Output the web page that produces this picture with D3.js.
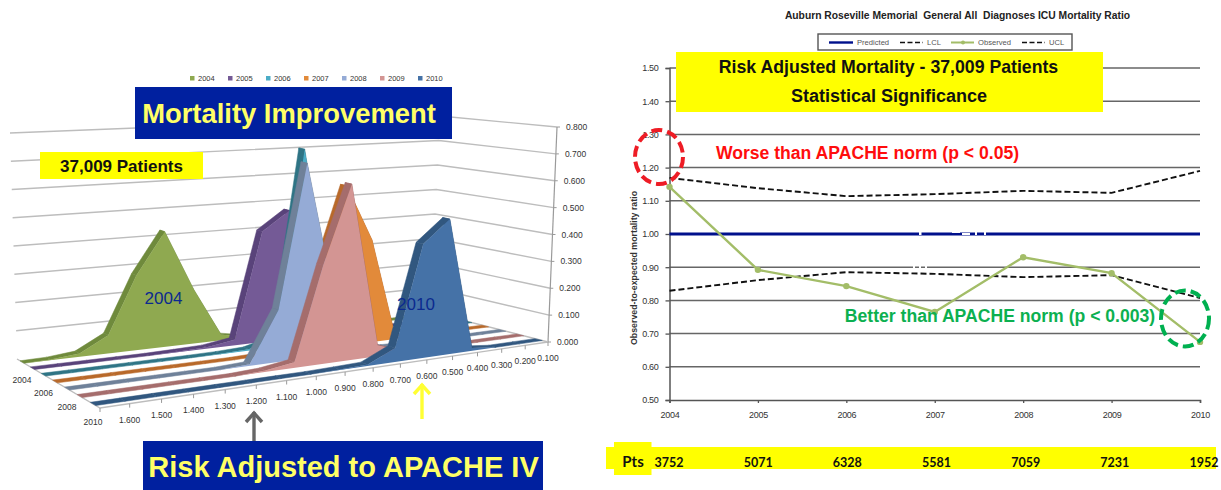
<!DOCTYPE html>
<html>
<head>
<meta charset="utf-8">
<script src="https://cdn.jsdelivr.net/npm/d3@7"></script>
<style>
  html, body { margin: 0; padding: 0; background: #fff; }
  svg { display: block; font-family: 'Liberation Sans', Arial, sans-serif; }
  .domain { stroke: #555; stroke-width: 1.5; }
</style>
</head>
<body>
<svg width="1221" height="490"></svg>
<script>
'use strict';
// left chart data, rows are the years, columns the risk adjusted ratio
const ratio_labels = ['1.700','1.600','1.500','1.400','1.300','1.200','1.100','1.000','0.900','0.800','0.700','0.600','0.500','0.400','0.300','0.200','0.100'];
const height_ticks = [0, 0.1, 0.2, 0.3, 0.4, 0.5, 0.6, 0.7, 0.8];
const years = ['2004','2005','2006','2007','2008','2009','2010'];
const dist_2004 = [0, 0.002, 0.012, 0.065, 0.27, 0.42, 0.2, 0.02, 0.002, 0, 0, 0, 0, 0, 0, 0, 0];
const dist_2005 = [0, 0, 0, 0, 0, 0.002, 0.005, 0.02, 0.41, 0.48, 0.15, 0.01, 0, 0, 0, 0, 0];
const dist_2006 = [0, 0, 0, 0, 0, 0, 0.001, 0.005, 0.03, 0.72, 0.15, 0.01, 0, 0, 0, 0, 0];
const dist_2007 = [0, 0, 0, 0, 0, 0, 0, 0.003, 0.03, 0.28, 0.59, 0.38, 0.01, 0, 0, 0, 0];
const dist_2008 = [0, 0, 0, 0, 0, 0, 0.005, 0.185, 0.7, 0.2, 0.02, 0.002, 0, 0, 0, 0, 0];
const dist_2009 = [0, 0, 0, 0, 0, 0, 0.005, 0.02, 0.35, 0.63, 0.04, 0.005, 0, 0, 0, 0, 0];
const dist_2010 = [0, 0, 0, 0, 0, 0, 0, 0, 0.002, 0.005, 0.05, 0.41, 0.49, 0.01, 0, 0, 0];
const face_colors = ['#8FA950','#745A96','#4BACC6','#E28A3A','#95ABD6','#D39593','#4572A7'];
const side_colors = ['#6F8A3C','#59437A','#2F7485','#B8692A','#6F8199','#A56D6C','#31577F'];

// right chart data
const chart_years = ['2004','2005','2006','2007','2008','2009','2010'];
const predicted = [1, 1, 1, 1, 1, 1, 1];
const lcl = [0.829, 0.861, 0.885, 0.88, 0.87, 0.876, 0.807];
const observed = [1.142, 0.892, 0.843, 0.765, 0.93, 0.882, 0.675];
const ucl = [1.169, 1.138, 1.114, 1.12, 1.13, 1.124, 1.19];
const patients = ['3752','5071','6328','5581','7059','7231','1952'];

const svg = d3.select('svg');

// maps the unit square on a four sided shape (perspective)
const quad_map = (p) => {
  const [x0,y0] = p[0], [x1,y1] = p[1], [x2,y2] = p[2], [x3,y3] = p[3];
  const dx1 = x1-x2, dx2 = x3-x2, sx = x0-x1+x2-x3;
  const dy1 = y1-y2, dy2 = y3-y2, sy = y0-y1+y2-y3;
  const den = dx1*dy2-dx2*dy1;
  const g = (sx*dy2-dx2*sy)/den, h = (dx1*sy-sx*dy1)/den;
  const a = x1-x0+g*x1, b = x3-x0+h*x3, d = y1-y0+g*y1, e = y3-y0+h*y3;
  return (u,v) => {
    const w = g*u+h*v+1;
    return [(a*u+b*v+x0)/w, (d*u+e*v+y0)/w];
  };
};

//floor of the 3d box: back left, back right, front right, front left
const floor_map = quad_map([[17,359],[430,312],[548,342],[100,408]]);
//full height of the box at these corners, as x and y offsets
const rise_back = d3.scaleLinear().domain([0,1]).range([[-7,-226],[10,-196]]);
const rise_front = d3.scaleLinear().domain([0,1]).range([[-7,-240],[9,-215]]);

//the pow takes out a bit of the perspective along the ratio axis
const u_point = d3.scalePoint().domain(ratio_labels).range([0,1]);
const u_pow = d3.scalePow().exponent(1.08).domain([0,1]).range([0,1]);
const u_scale = d => u_pow(u_point(d));
const v_scale = d3.scaleBand().domain(years).range([0,1]).paddingInner(0.6).paddingOuter(0.3);
const z_scale = d3.scaleLinear().domain([0,0.8]).range([0,1]);

const project = (u,v,z) => {
  const f = floor_map(u,v), k = z_scale(z);
  const rb = rise_back(u), rf = rise_front(u);
  return [f[0]+(rb[0]+(rf[0]-rb[0])*v)*k, f[1]+(rb[1]+(rf[1]-rb[1])*v)*k];
};
const poly = d3.line();

const left_g = svg.append('g');

//walls
left_g.append('g').selectAll('path').data(height_ticks.slice(1)).enter().append('path')
  .attr('d', z => poly([project(0,0,z),project(1,0,z),project(1,1,z)]))
  .attr('fill','none').attr('stroke','#BDBDBD').attr('stroke-width',1.4);
left_g.append('path')
  .attr('d', poly([project(1,1,0),project(1,1,0.8)]))
  .attr('fill','none').attr('stroke','#9A9A9A').attr('stroke-width',1.2);
left_g.append('path')
  .attr('d', poly([project(0,0,0),project(0,1,0),project(1,1,0),project(1,0,0)]))
  .attr('fill','none').attr('stroke','#BDBDBD').attr('stroke-width',1.4);

//height labels on the right wall
const height_g = left_g.append('g').selectAll('g').data(height_ticks).enter().append('g');
height_g.append('path')
  .attr('d', z => { const p = project(1,1,z); return poly([p,[p[0]+3,p[1]]]); })
  .attr('stroke','#9A9A9A').attr('stroke-width',1);
height_g.append('text')
  .attr('x', z => project(1,1,z)[0]+9).attr('y', z => project(1,1,z)[1]+3)
  .attr('font-size',8.5).attr('fill','#333')
  .text(z => z.toFixed(3));

//ratio axis
const ratio_g = left_g.append('g').selectAll('g').data(ratio_labels).enter().append('g');
ratio_g.append('path')
  .attr('d', d => { const p = project(u_scale(d),1,0); return poly([p,[p[0],p[1]+4]]); })
  .attr('stroke','#9A9A9A').attr('stroke-width',1);
ratio_g.filter(d => d !== '1.700').append('text')
  .attr('x', d => project(u_scale(d),1,0)[0]).attr('y', d => project(u_scale(d),1,0)[1]+19)
  .attr('text-anchor','middle').attr('font-size',8.5).attr('fill','#333')
  .text(d => d);

//year axis, every second year
left_g.append('g').selectAll('text').data(years.filter((d,i) => i%2===0)).enter().append('text')
  .attr('x', d => project(0,v_scale(d)+v_scale.bandwidth()/2,0)[0])
  .attr('y', d => project(0,v_scale(d)+v_scale.bandwidth()/2,0)[1]+21)
  .attr('text-anchor','middle').attr('font-size',8.5).attr('fill','#333')
  .text(d => d);

//slabs from back to front
const dists = [dist_2004,dist_2005,dist_2006,dist_2007,dist_2008,dist_2009,dist_2010];
dists.forEach((dist,i) => {
  const back = v_scale(years[i]);
  const front = back + v_scale.bandwidth();
  const slab = left_g.append('g');
  slab.selectAll('path.side').data(d3.pairs(ratio_labels.map((d,j) => [u_scale(d),dist[j]]))).enter().append('path')
    .attr('class','side')
    .attr('d', s => poly([project(s[0][0],back,s[0][1]),project(s[1][0],back,s[1][1]),project(s[1][0],front,s[1][1]),project(s[0][0],front,s[0][1])])+'Z')
    .attr('fill',side_colors[i]).attr('stroke',side_colors[i]).attr('stroke-width',0.5);
  const outline = ratio_labels.map((d,j) => project(u_scale(d),front,dist[j]));
  outline.push(project(1,front,0),project(0,front,0));
  slab.append('path').attr('d',poly(outline)+'Z').attr('fill',face_colors[i]);
});

//legend of the left chart
const leg_x = d3.scalePoint().domain(years).range([190,418]);
const leg_g = left_g.append('g').selectAll('g').data(years).enter().append('g')
  .attr('transform', d => `translate(${leg_x(d)},76)`);
leg_g.append('rect').attr('width',4.5).attr('height',4.5).attr('fill',(d,i) => face_colors[i]);
leg_g.append('text').attr('x',8).attr('y',5).attr('font-size',7.5).attr('fill','#333').text(d => d);

//right chart
const x_scale = d3.scalePoint().domain(chart_years).range([669.5,1200]);
const y_scale = d3.scaleLinear().domain([0.5,1.5]).range([400,68]);
const right_g = svg.append('g');

right_g.append('g').selectAll('line').data(y_scale.ticks(10).slice(1)).enter().append('line')
  .attr('x1',669.5).attr('x2',1200).attr('y1',d => y_scale(d)).attr('y2',d => y_scale(d))
  .attr('stroke','#666').attr('stroke-width',1.5);

const y_axis = right_g.append('g').attr('transform','translate(669.5,0)')
  .call(d3.axisLeft(y_scale).ticks(10).tickFormat(d3.format('.2f')).tickSize(4).tickPadding(7));
const x_axis = right_g.append('g').attr('transform','translate(0,400)')
  .call(d3.axisBottom(x_scale).tickSize(3).tickPadding(9));
[y_axis,x_axis].forEach(a => {
  a.attr('font-family',null).attr('font-size',null);
  a.selectAll('text').attr('font-size',9).attr('fill','#333').style('letter-spacing','-0.3px');
  a.selectAll('line').attr('stroke','#555').attr('stroke-width',1.3);
});

const value_line = d3.line().x((d,i) => x_scale(chart_years[i])).y(d => y_scale(d));
right_g.append('path').attr('d',value_line(predicted)).attr('fill','none').attr('stroke','#00108C').attr('stroke-width',3);
[lcl,ucl].forEach(s => {
  right_g.append('path').attr('d',value_line(s)).attr('fill','none').attr('stroke','#111')
    .attr('stroke-width',1.9).attr('stroke-dasharray','6,3');
});

//small white leftovers on the lines around 2007
const nicks = [[919,231,2.5,4],[952,231,8,2],[962,233,8,2],[975,231,2,4],[984,231,2,4],[913,265,2,3],[919,265,2,3],[925,265,2,3]];
right_g.append('g').selectAll('rect').data(nicks).enter().append('rect')
  .attr('x',d => d[0]).attr('y',d => d[1]).attr('width',d => d[2]).attr('height',d => d[3]).attr('fill','#fff');

right_g.append('path').attr('d',value_line(observed)).attr('fill','none').attr('stroke','#A3BD68').attr('stroke-width',2.4);
right_g.append('g').selectAll('circle').data(observed).enter().append('circle')
  .attr('cx',(d,i) => x_scale(chart_years[i])).attr('cy',d => y_scale(d)).attr('r',3.2).attr('fill','#A3BD68');

right_g.append('text').attr('x',957.5).attr('y',19).attr('text-anchor','middle')
  .attr('font-size',10.3).attr('font-weight','bold').attr('fill','#222')
  .text('Auburn Roseville Memorial  General All  Diagnoses ICU Mortality Ratio')
  .style('white-space','pre');

right_g.append('text').attr('transform','translate(637,268) rotate(-90)').attr('text-anchor','middle')
  .attr('font-size',8.8).attr('font-weight','bold').attr('fill','#333')
  .text('Observed-to-expected mortality ratio');

//right legend
right_g.append('rect').attr('x',818).attr('y',34).attr('width',254).attr('height',16)
  .attr('fill','#fff').attr('stroke','#555').attr('stroke-width',1.4);
const legend_items = [
  {name:'Predicted',x:829,w:24,color:'#00108C',dash:null,sw:2.4},
  {name:'LCL',x:900,w:23,color:'#111',dash:'5,2.5',sw:1.6},
  {name:'Observed',x:951,w:23,color:'#A3BD68',dash:null,sw:2},
  {name:'UCL',x:1022,w:23,color:'#111',dash:'5,2.5',sw:1.6}
];
const item_g = right_g.append('g').selectAll('g').data(legend_items).enter().append('g');
item_g.append('line').attr('x1',d => d.x).attr('x2',d => d.x+d.w).attr('y1',42.5).attr('y2',42.5)
  .attr('stroke',d => d.color).attr('stroke-width',d => d.sw).attr('stroke-dasharray',d => d.dash);
item_g.filter(d => d.name==='Observed').append('circle').attr('cx',d => d.x+12).attr('cy',42.5).attr('r',2).attr('fill','#A3BD68');
item_g.append('text').attr('x',d => d.x+d.w+4).attr('y',45.2).attr('font-size',7.6).attr('fill','#555').text(d => d.name);

//annotation boxes and texts on top of both charts
const boxes = [
  {x:135,y:87,w:317,h:52,c:'#00209F'},
  {x:143,y:441,w:400,h:49,c:'#00209F'},
  {x:40,y:152,w:163,h:27,c:'#FFFF00'},
  {x:676,y:52,w:427,h:60,c:'#FFFF00'},
  {x:606,y:447,w:610,h:22,c:'#FFFF00'},
  {x:614,y:442,w:37.5,h:33,c:'#FFFF00'}
];
svg.append('g').selectAll('rect').data(boxes).enter().append('rect')
  .attr('x',d => d.x).attr('y',d => d.y).attr('width',d => d.w).attr('height',d => d.h).attr('fill',d => d.c);

const notes = [
  {t:'Mortality Improvement',x:289,y:123,s:27.4,c:'#FFFF66',w:'bold'},
  {t:'Risk Adjusted to APACHE IV',x:343.5,y:477,s:29,c:'#FFFF66',w:'bold'},
  {t:'37,009 Patients',x:121.5,y:172,s:17,c:'#111',w:'bold'},
  {t:'2004',x:163.5,y:304,s:17,c:'#0B2A8F',w:'normal'},
  {t:'2010',x:416,y:310,s:17,c:'#0B2A8F',w:'normal'},
  {t:'Risk Adjusted Mortality - 37,009 Patients',x:888.5,y:73,s:17.7,c:'#111',w:'bold'},
  {t:'Statistical Significance',x:889,y:102,s:18,c:'#111',w:'bold'},
  {t:'Worse than APACHE norm (p < 0.05)',x:867.5,y:159,s:17.6,c:'#FF0D0D',w:'bold'},
  {t:'Better than APACHE norm (p < 0.003)',x:1000,y:322,s:17.6,c:'#0CB050',w:'bold'}
];
svg.append('g').selectAll('text').data(notes).enter().append('text')
  .attr('x',d => d.x).attr('y',d => d.y).attr('text-anchor','middle')
  .attr('font-size',d => d.s).attr('font-weight',d => d.w).attr('fill',d => d.c)
  .text(d => d.t);

//patient counts under the years
const pts_x = d3.scalePoint().domain(chart_years).range([669,1204]);
const pts_g = svg.append('g').attr('font-family','Lato').attr('font-weight','bold').attr('fill','#111').attr('text-anchor','middle');
pts_g.selectAll('text').data(patients).enter().append('text')
  .attr('x',(d,i) => pts_x(chart_years[i])).attr('y',467).attr('font-size',12.5).text(d => d);
pts_g.append('text').attr('x',633).attr('y',467).attr('font-size',15).text('Pts');

//dashed circles
const rings = [
  {cx:659,cy:157,rx:24,ry:27,c:'#EE1C25',dash:'11,5'},
  {cx:1185,cy:318.5,rx:24,ry:28,c:'#00B050',dash:'11,5'}
];
svg.append('g').selectAll('ellipse').data(rings).enter().append('ellipse')
  .attr('cx',d => d.cx).attr('cy',d => d.cy).attr('rx',d => d.rx).attr('ry',d => d.ry)
  .attr('fill','none').attr('stroke',d => d.c).attr('stroke-width',4).attr('stroke-dasharray',d => d.dash);

//arrows
const arrows = [
  {x:254,y0:441,y1:412,c:'#666'},
  {x:422,y0:419,y1:384,c:'#FFFF33'}
];
const arrow_g = svg.append('g').selectAll('g').data(arrows).enter().append('g')
  .attr('fill','none').attr('stroke',d => d.c).attr('stroke-width',3.4);
arrow_g.append('path').attr('d',d => poly([[d.x,d.y0],[d.x,d.y1]]));
arrow_g.append('path').attr('d',d => poly([[d.x-8,d.y1+10],[d.x,d.y1+1],[d.x+8,d.y1+10]]));
</script>
</body>
</html>
